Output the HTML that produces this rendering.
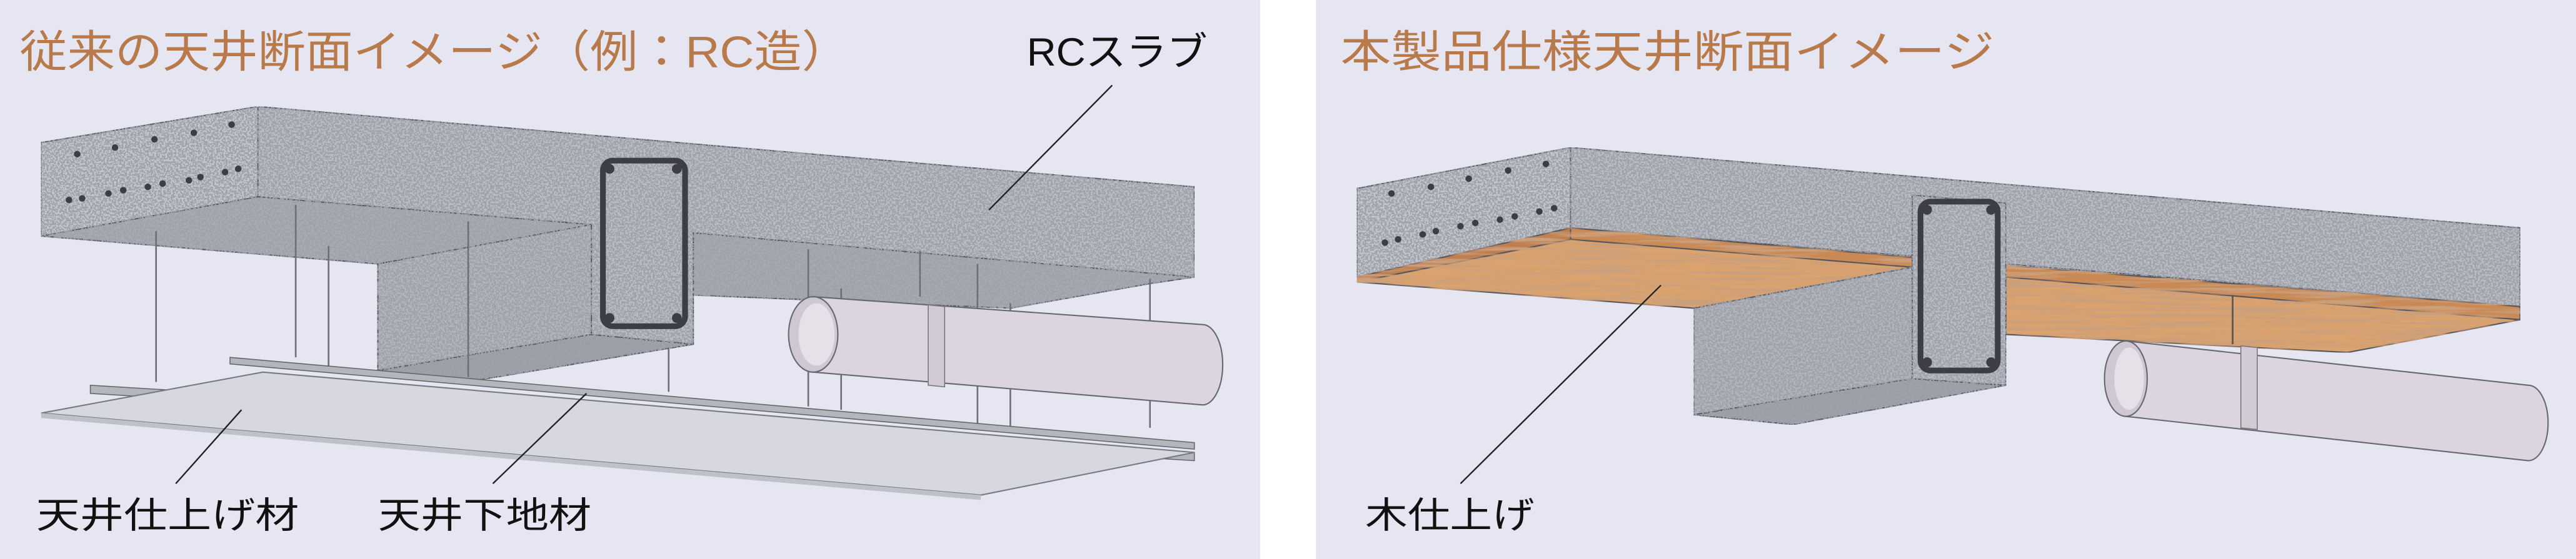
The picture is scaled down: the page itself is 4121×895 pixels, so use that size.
<!DOCTYPE html>
<html><head><meta charset="utf-8"><style>
html,body{margin:0;padding:0;background:#fff;}
svg{display:block;}
text{font-family:"Liberation Sans","Noto Sans CJK JP",sans-serif;}
</style></head><body>
<svg width="4121" height="895" viewBox="0 0 1568 341" preserveAspectRatio="none" xmlns="http://www.w3.org/2000/svg">
<defs>
<filter id="sp" x="0" y="0" width="100%" height="100%">
  <feTurbulence type="fractalNoise" baseFrequency="0.9" numOctaves="2" seed="3" result="n"/>
  <feColorMatrix in="n" type="matrix" values="0 0 0 0 0.35  0 0 0 0 0.36  0 0 0 0 0.4  0 0 0 -9 5.2" result="d"/>
  <feComposite in="d" in2="SourceGraphic" operator="in" result="dd"/>
  <feMerge><feMergeNode in="SourceGraphic"/><feMergeNode in="dd"/></feMerge>
</filter>
<filter id="wd" x="0" y="0" width="100%" height="100%">
  <feTurbulence type="fractalNoise" baseFrequency="0.02 0.5" numOctaves="2" seed="5" result="n"/>
  <feColorMatrix in="n" type="matrix" values="0 0 0 0 0.6  0 0 0 0 0.35  0 0 0 0 0.2  0 0 0 -4 2.3" result="d"/>
  <feComposite in="d" in2="SourceGraphic" operator="in" result="dd"/>
  <feMerge><feMergeNode in="SourceGraphic"/><feMergeNode in="dd"/></feMerge>
</filter>
</defs>
<rect x="0" y="0" width="1568" height="341" fill="#fff"/>
<rect x="0" y="0" width="767" height="341" fill="#e5e6f1"/>
<rect x="801" y="0" width="767" height="341" fill="#e5e6f1"/>

<!-- LEFT PANEL -->
<g stroke="#55575e" stroke-width="0.8" stroke-linejoin="round" filter="url(#sp)">
  <polygon points="422,142 727,169 700,173 615,188 422,180" fill="#a7aab3"/>
  <polygon points="25,144 157,120 360,137 230,161" fill="#a9acb5"/>
  <polygon points="230,161 360,137 360,204 230,226" fill="#b3b6be"/>
  <polygon points="230,226 360,204 422,210 290,232" fill="#9a9da6"/>
  <polygon points="25,87 157,65 157,120 25,144" fill="#c3c6cd"/>
  <polygon points="157,65 727,114 727,169 422,142 422,210 360,204 360,137 157,120" fill="#babdc5"/>
</g>
<rect x="367" y="98" width="50" height="101" rx="6" fill="none" stroke="#3c3e44" stroke-width="3.5"/>
<g fill="#3c3e44">
  <circle cx="371" cy="103" r="3"/><circle cx="412" cy="103" r="3"/><circle cx="371" cy="194" r="3"/><circle cx="412" cy="194" r="3"/>
  <circle cx="47" cy="94" r="2"/><circle cx="70" cy="90" r="2"/><circle cx="94" cy="85" r="2"/><circle cx="118" cy="81" r="2"/><circle cx="141" cy="76" r="2"/>
  <circle cx="42" cy="122" r="2"/><circle cx="50" cy="121" r="2"/><circle cx="66" cy="118" r="2"/><circle cx="75" cy="116" r="2"/><circle cx="90" cy="114" r="2"/><circle cx="99" cy="112" r="2"/><circle cx="115" cy="110" r="2"/><circle cx="122" cy="108" r="2"/><circle cx="137" cy="105" r="2"/><circle cx="145" cy="103" r="2"/>
</g>
<g stroke="#6d7078" stroke-width="1">
  <line x1="95" y1="141" x2="95" y2="233"/><line x1="180" y1="125" x2="180" y2="218"/><line x1="200" y1="150" x2="200" y2="224"/>
  <line x1="285" y1="135" x2="285" y2="230"/><line x1="407" y1="213" x2="407" y2="239"/><line x1="492" y1="152" x2="492" y2="248"/>
  <line x1="512" y1="176" x2="512" y2="250"/><line x1="560" y1="153" x2="560" y2="181"/><line x1="595" y1="161" x2="595" y2="259"/>
  <line x1="615" y1="185" x2="615" y2="261"/><line x1="700" y1="170" x2="700" y2="261"/>
</g>
<polygon points="55,235 727,276 727,281 55,240" fill="#b4b6bd" stroke="#666" stroke-width="0.6"/>
<polygon points="140,218 727,270 727,274 140,222" fill="#b4b6bd" stroke="#666" stroke-width="0.6"/>
<polygon points="25,252 160,227 727,276 597,302" fill="#d7d8df" stroke="#777a82" stroke-width="0.8"/>
<polygon points="25,252 597,302 597,305 25,255" fill="#bfc1c8"/>
<path d="M495,181 L732,198 A12,24 0 0 1 732,247 L495,227 Z" fill="#dcd5df" stroke="#666870" stroke-width="0.8"/>
<ellipse cx="495" cy="204" rx="15" ry="23" fill="#cfc7d3" stroke="#666870" stroke-width="0.8"/>
<ellipse cx="497" cy="204" rx="11" ry="19" fill="#e6e0e8"/>
<path d="M565,186 L575,187 L575,236 L565,235 Z" fill="#d2cbd6" stroke="#777" stroke-width="0.6"/>
<g stroke="#222" stroke-width="0.9">
  <line x1="677" y1="52" x2="602" y2="128"/>
  <line x1="147" y1="250" x2="107" y2="295"/>
  <line x1="357" y1="240" x2="300" y2="295"/>
</g>
<text x="12" y="41" font-size="27" fill="#b87a4b" textLength="505" lengthAdjust="spacingAndGlyphs">従来の天井断面イメージ（例：RC造）</text>
<text x="625" y="40" font-size="24" fill="#111" textLength="110" lengthAdjust="spacingAndGlyphs">RCスラブ</text>
<text x="22" y="322" font-size="22" fill="#111" textLength="160" lengthAdjust="spacingAndGlyphs">天井仕上げ材</text>
<text x="230" y="322" font-size="22" fill="#111" textLength="130" lengthAdjust="spacingAndGlyphs">天井下地材</text>

<!-- RIGHT PANEL -->
<g stroke="#55575e" stroke-width="0.8" stroke-linejoin="round" filter="url(#sp)">
  <polygon points="826,115 956,90 956,146 826,169" fill="#c3c6cd"/>
  <polygon points="956,90 1534,139 1534,187 956,139" fill="#babdc5"/>
</g>
<g stroke="#55575e" stroke-width="0.8" stroke-linejoin="round" filter="url(#wd)">
  <polygon points="826,172 956,146 1164,163 1031,188" fill="#d9a26e"/>
  <polygon points="826,169 956,139 956,146 826,172" fill="#bf7e4e"/>
  <polygon points="956,139 1164,157 1164,163 956,146" fill="#c98955"/>
  <polygon points="1221,169 1534,195 1429,215 1221,204" fill="#d9a26e"/>
  <polygon points="1221,162 1534,187 1534,195 1221,169" fill="#c98955"/>
</g>
<g stroke="#55575e" stroke-width="0.8" stroke-linejoin="round" filter="url(#sp)">
  <polygon points="1031,188 1164,163 1164,231 1031,253" fill="#b3b6be"/>
  <polygon points="1031,253 1164,231 1221,235 1091,259" fill="#9a9da6"/>
  <polygon points="1164,119 1221,124 1221,235 1164,231" fill="#babdc5"/>
</g>
<rect x="1169" y="123" width="47" height="103" rx="6" fill="none" stroke="#3c3e44" stroke-width="3.5"/>
<g fill="#3c3e44">
  <circle cx="1173" cy="128" r="3"/><circle cx="1212" cy="128" r="3"/><circle cx="1173" cy="221" r="3"/><circle cx="1212" cy="221" r="3"/>
  <circle cx="847" cy="118" r="2"/><circle cx="871" cy="114" r="2"/><circle cx="894" cy="109" r="2"/><circle cx="918" cy="104" r="2"/><circle cx="941" cy="100" r="2"/>
  <circle cx="843" cy="148" r="2"/><circle cx="851" cy="146" r="2"/><circle cx="866" cy="143" r="2"/><circle cx="874" cy="141" r="2"/><circle cx="889" cy="138" r="2"/><circle cx="898" cy="136" r="2"/><circle cx="913" cy="134" r="2"/><circle cx="922" cy="132" r="2"/><circle cx="937" cy="129" r="2"/><circle cx="946" cy="127" r="2"/>
</g>
<line x1="1359" y1="180" x2="1359" y2="210" stroke="#555" stroke-width="1"/>
<path d="M1294,208 L1539,235 A12,23 0 0 1 1539,281 L1294,254 Z" fill="#dcd5df" stroke="#666870" stroke-width="0.8"/>
<ellipse cx="1294" cy="231" rx="13" ry="23" fill="#cfc7d3" stroke="#666870" stroke-width="0.8"/>
<ellipse cx="1296" cy="231" rx="9" ry="19" fill="#e6e0e8"/>
<path d="M1364,211 L1374,212 L1374,262 L1364,261 Z" fill="#d2cbd6" stroke="#777" stroke-width="0.6"/>
<line x1="1011" y1="174" x2="889" y2="295" stroke="#222" stroke-width="0.9"/>
<text x="816" y="41" font-size="27" fill="#b87a4b" textLength="398" lengthAdjust="spacingAndGlyphs">本製品仕様天井断面イメージ</text>
<text x="831" y="322" font-size="22" fill="#111" textLength="103" lengthAdjust="spacingAndGlyphs">木仕上げ</text>
</svg>
</body></html>
